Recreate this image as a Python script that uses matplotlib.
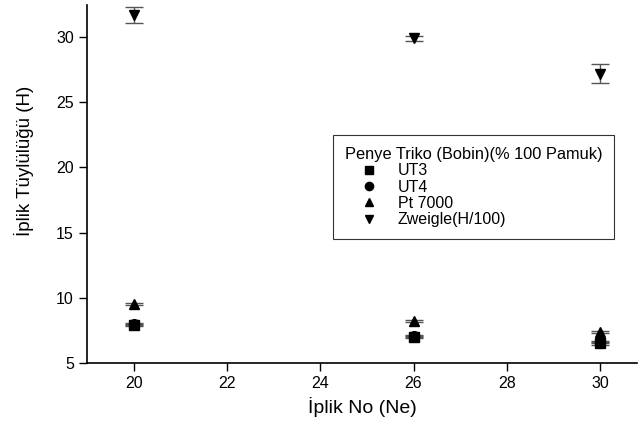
import numpy as np
import matplotlib.pyplot as plt

plt.rcParams['font.family'] = ['Liberation Sans', 'DejaVu Sans']

# DATA
iplik_no = [20, 26, 30]
ut3 = [7.9, 7.0, 6.5]
ut3_err = [0.08, 0.08, 0.08]
ut4 = [8.0, 7.1, 6.6]
ut4_err = [0.08, 0.08, 0.08]
pt7000 = [9.5, 8.2, 7.4]
pt7000_err = [0.08, 0.08, 0.08]
zweigle = [31.7, 29.9, 27.2]
zweigle_err = [0.6, 0.2, 0.75]

series = [
    ('UT3', ut3, ut3_err, 's'),
    ('UT4', ut4, ut4_err, 'o'),
    ('Pt 7000', pt7000, pt7000_err, '^'),
    ('Zweigle(H/100)', zweigle, zweigle_err, 'v'),
]

fig = plt.figure(figsize=(6.41, 4.23), dpi=100)
ax = fig.add_axes([0.1357, 0.1418, 0.8581, 0.8462])

handles = []
for label, vals, errs, mk in series:
    eb = ax.errorbar(iplik_no, vals, yerr=errs, fmt=mk, color='black',
                     ecolor='#555555', elinewidth=1, capsize=6.5, capthick=1,
                     markersize=7)
    eb[0].set_label(label)
    handles.append(eb[0])

ax.set_xlim(19.0, 30.79)
ax.set_ylim(5, 32.45)
ax.set_xticks([20, 22, 24, 26, 28, 30])
ax.set_yticks([5, 10, 15, 20, 25, 30])
ax.tick_params(direction='out', length=6, width=1, labelsize=11.5)

for side in ['top', 'right']:
    ax.spines[side].set_visible(False)
for side in ['left', 'bottom']:
    ax.spines[side].set_linewidth(1.2)

ax.set_xlabel('İplik No (Ne)', fontsize=14)
ax.set_ylabel('İplik Tüylülüğü (H)', fontsize=13.5)
ax.yaxis.set_label_coords(-0.097, 0.564)

leg = ax.legend(handles=handles, labels=[s[0] for s in series],
                title='Penye Triko (Bobin)(% 100 Pamuk)',
                loc='upper left', bbox_to_anchor=(0.447, 0.637), borderaxespad=0,
                fontsize=11.5, title_fontsize=11.8, frameon=True, fancybox=False,
                edgecolor='black', handlelength=3.0, handletextpad=0.3,
                labelspacing=0.08, borderpad=0.75, markerscale=0.85)
leg.get_frame().set_linewidth(0.8)
leg._legend_box.align = 'left'

fig.savefig('out.png', dpi=100)
